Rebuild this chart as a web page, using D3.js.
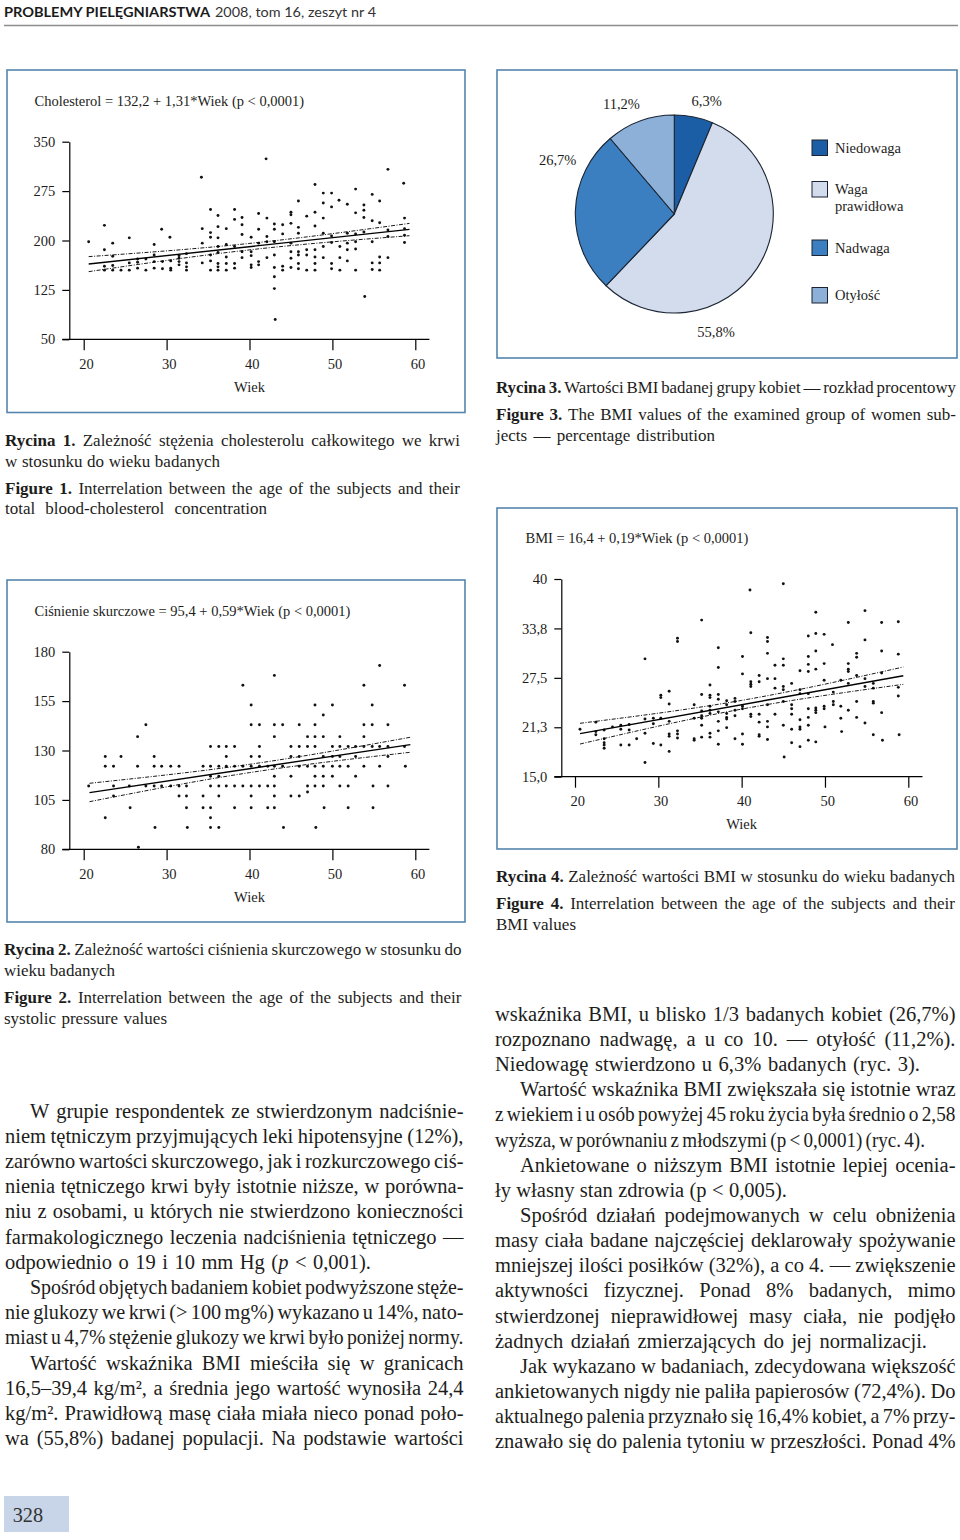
<!DOCTYPE html>
<html><head><meta charset="utf-8">
<script src="https://cdn.jsdelivr.net/npm/d3@7/dist/d3.min.js"></script>
<style>html,body{margin:0;padding:0;background:#fff}svg{display:block}</style>
</head><body>
<svg id="page" width="960" height="1540"></svg>
<script>
// ================= DATA =================
const ageTicks = [20, 30, 40, 50, 60];

// Figure 1 – cholesterol vs age
const cholTicks = [350, 275, 200, 125, 50];
const cholTickLabels = ["350", "275", "200", "125", "50"];
const cholPoints = [
[20.6,198],[22.5,223],[22.5,186],[22.5,161],[22.5,155],[23.5,196],[23.5,176],[23.5,162],[23.5,155],[24.5,155],
[25.5,204],[25.5,166],[25.5,155],[26.5,172],[26.5,167],[26.5,158],[27.5,172],[27.5,155],[28.5,194],[28.5,178],
[28.5,168],[28.5,158],[29.4,217],[29.5,168],[29.5,157],[30.4,205],[30.5,169],[30.5,158],[30.5,155],[31.5,177],
[31.5,173],[31.5,168],[31.5,163],[32.4,180],[32.4,166],[32.4,160],[32.4,155],[34.2,296],[34.3,218],[34.3,196],
[34.3,166],[35.3,247],[35.3,212],[35.3,205],[35.3,178],[35.3,169],[35.3,155],[36.2,238],[36.2,221],[36.2,204],
[36.2,191],[36.2,182],[36.2,165],[36.2,160],[36.2,155],[37.2,218],[37.2,194],[37.2,175],[37.2,165],[37.2,155],
[38.2,247],[38.2,232],[38.2,191],[38.2,165],[38.2,158],[39.1,235],[39.1,224],[39.1,209],[39.1,183],[39.1,174],
[40.2,205],[40.2,183],[40.2,177],[40.2,163],[40.2,159],[41.1,241],[41.1,217],[41.1,196],[41.1,168],[41.1,163],
[42.0,324],[42.1,234],[42.1,206],[42.1,198],[42.1,174],[43.0,225],[43.0,217],[43.0,198],[43.0,178],[43.0,159],
[43.0,145],[43.0,127],[43.1,80],[44.0,224],[44.0,210],[44.0,161],[44.0,155],[45.0,243],[45.0,239],[45.0,226],
[45.0,196],[45.0,183],[45.0,173],[45.0,159],[45.9,260],[45.9,220],[45.9,211],[45.9,183],[45.9,178],[45.9,165],
[45.9,157],[46.9,237],[46.9,186],[46.9,178],[46.9,155],[47.9,285],[47.9,243],[47.9,222],[47.9,186],[47.9,175],
[47.9,165],[47.9,155],[48.9,272],[48.9,257],[48.9,234],[48.9,211],[48.9,191],[48.9,174],[49.9,272],[49.9,251],
[49.9,207],[49.9,197],[49.9,165],[49.9,157],[50.8,261],[50.9,191],[50.9,174],[50.9,155],[51.8,255],[51.8,211],
[51.8,196],[51.8,186],[51.8,169],[52.8,278],[52.8,242],[52.8,210],[52.8,198],[52.8,187],[52.8,155],[53.8,254],
[53.8,246],[53.8,235],[53.8,213],[53.9,115],[54.8,270],[54.8,230],[54.8,198],[54.8,166],[54.8,156],[55.7,260],
[55.7,227],[55.7,175],[55.7,166],[55.7,155],[56.7,308],[56.7,216],[56.7,206],[56.7,174],[58.6,287],[58.7,234],
[58.7,218],[58.7,208],[58.7,197]];
const cholFitAge = [20.6, 39.95, 59.3];
const cholFit = [164.3, 190.6, 216.9];
const cholUpper = [175.5, 195.5, 226.0];
const cholLower = [152.7, 185.7, 207.3];

// Figure 2 – systolic pressure vs age
const bpTicks = [180, 155, 130, 105, 80];
const bpTickLabels = ["180", "155", "130", "105", "80"];
const bpPoints = [
[20.6,112],[22.6,127],[22.6,122],[22.6,96],[23.6,122],[23.6,112],[23.6,107],[24.5,127],[25.5,112],[25.6,101],
[26.5,137],[26.5,122],[26.6,81],[27.5,143],[27.5,112],[28.5,127],[28.5,122],[28.5,112],[28.6,91],[29.4,122],
[29.4,112],[30.5,122],[30.5,112],[31.5,122],[31.5,112],[31.5,107],[32.4,112],[32.4,107],[32.4,101],[32.5,91],
[34.4,122],[34.4,107],[34.4,101],[35.3,132],[35.3,122],[35.3,117],[35.3,112],[35.3,101],[35.3,96],[35.3,91],
[36.3,132],[36.3,122],[36.3,117],[36.3,112],[36.3,107],[36.3,91],[37.2,132],[37.2,127],[37.2,122],[37.2,112],
[38.2,132],[38.2,122],[38.2,112],[38.2,101],[39.2,163],[39.2,122],[39.2,112],[40.2,153],[40.2,143],[40.2,127],
[40.2,122],[40.2,112],[40.2,107],[40.2,101],[41.2,143],[41.2,132],[41.2,127],[41.2,122],[41.2,112],[42.2,122],
[42.2,112],[42.2,101],[43.0,168],[43.0,143],[43.0,137],[43.0,122],[43.0,117],[43.0,112],[43.0,107],[43.0,101],
[44.0,143],[44.0,122],[44.1,91],[45.0,132],[45.0,127],[45.0,117],[45.0,107],[46.0,143],[46.0,132],[46.0,127],
[46.0,122],[46.0,107],[47.0,137],[47.0,132],[47.0,122],[47.0,112],[47.0,109],[47.9,153],[47.9,143],[47.9,137],
[47.9,132],[47.9,122],[47.9,117],[47.9,112],[48.0,91],[48.9,148],[48.9,137],[48.9,127],[48.9,122],[48.9,117],
[48.9,112],[49.0,101],[50.0,153],[50.0,132],[50.0,127],[50.0,122],[50.0,117],[50.9,137],[50.9,132],[50.9,127],
[50.9,122],[50.9,112],[51.9,132],[51.9,122],[51.9,112],[51.9,101],[52.8,132],[52.8,127],[52.8,117],[53.8,163],
[53.8,143],[53.8,137],[53.8,132],[53.8,122],[54.8,153],[54.8,143],[54.8,132],[54.9,112],[54.9,101],[55.7,173],
[55.7,132],[55.7,122],[56.7,143],[56.7,132],[56.7,127],[56.7,112],[58.7,163],[58.7,132],[58.8,122]];
const bpFitAge = [20.7, 40.0, 59.4];
const bpFit = [108.7, 120.9, 133.0];
const bpUpper = [113.4, 123.0, 136.7];
const bpLower = [104.1, 118.8, 129.1];

// Figure 4 – BMI vs age
const bmiTicks = [40, 33.75, 27.5, 21.25, 15];
const bmiTickLabels = ["40", "33,8", "27,5", "21,3", "15,0"];
const bmiPoints = [
[20.6,21.0],[22.5,20.7],[22.5,20.3],[22.5,21.9],[23.5,19.8],[23.5,19.3],[23.5,19.0],[23.5,18.6],[23.5,20.9],[24.5,21.3],
[25.5,19.0],[25.5,21.0],[25.5,21.5],[26.5,19.0],[26.5,21.6],[26.5,20.9],[27.4,19.8],[28.4,29.9],[28.4,22.3],[28.4,20.5],
[28.4,16.8],[29.4,19.2],[29.4,22.4],[29.4,21.7],[30.3,25.3],[30.3,25.0],[30.3,22.4],[30.3,19.0],[31.3,25.8],[31.3,24.2],
[31.3,22.0],[31.3,20.4],[31.3,20.1],[31.3,18.2],[32.3,32.5],[32.3,32.1],[32.3,20.8],[32.3,20.4],[32.3,19.9],[34.3,24.1],
[34.3,22.4],[34.3,19.8],[34.3,19.6],[35.2,34.8],[35.2,25.4],[35.2,23.3],[35.2,22.7],[35.2,22.4],[35.2,21.5],[35.2,20.0],
[36.2,26.6],[36.2,25.3],[36.2,25.0],[36.2,23.9],[36.2,23.4],[36.2,23.0],[36.2,20.5],[36.2,20.0],[37.2,31.3],[37.2,28.8],
[37.2,25.4],[37.2,24.8],[37.2,23.2],[37.2,22.0],[37.2,20.8],[37.2,19.1],[38.2,24.6],[38.2,24.1],[38.2,23.0],[38.2,22.5],
[38.2,22.3],[38.2,21.2],[39.2,24.9],[39.2,24.5],[39.2,23.4],[39.2,22.7],[39.2,19.8],[40.1,30.2],[40.1,28.0],[40.1,23.9],
[40.1,23.6],[40.1,20.4],[40.1,19.1],[41.0,38.6],[41.1,33.2],[41.1,27.0],[41.1,26.7],[41.1,26.4],[41.1,22.9],[41.1,22.6],
[42.1,27.8],[42.1,27.0],[42.1,22.9],[42.1,21.9],[42.1,20.3],[42.1,20.1],[43.1,32.6],[43.1,32.1],[43.1,30.6],[43.1,27.4],
[43.1,24.1],[43.1,22.0],[43.1,21.3],[43.1,19.7],[44.0,29.1],[44.0,27.4],[44.0,26.2],[44.0,22.9],[45.0,39.4],[45.0,29.9],
[45.0,29.1],[45.0,26.4],[45.0,26.0],[45.0,24.5],[45.0,21.5],[45.1,17.5],[46.0,26.8],[46.0,24.1],[46.0,23.6],[46.0,22.9],
[46.0,21.0],[46.0,19.3],[47.0,28.4],[47.0,26.0],[47.0,25.5],[47.0,22.2],[47.0,21.3],[47.0,21.0],[47.0,18.8],[48.0,32.8],
[48.0,30.2],[48.0,29.2],[48.0,28.3],[48.0,25.5],[48.0,23.6],[48.0,22.5],[48.0,21.5],[48.0,19.6],[48.9,35.8],[48.9,33.1],
[48.9,30.9],[48.9,28.6],[48.9,23.7],[48.9,23.4],[48.9,23.1],[48.9,19.4],[49.9,33.0],[49.9,29.3],[49.9,27.2],[49.9,23.9],
[49.9,23.6],[50.0,21.3],[50.9,31.7],[51.0,25.7],[51.0,24.5],[51.0,24.1],[51.9,27.2],[51.9,23.9],[51.9,22.4],[52.0,20.7],
[52.8,34.5],[52.8,29.3],[52.8,28.6],[52.8,28.3],[52.8,26.8],[52.8,23.4],[53.8,30.6],[53.8,30.1],[53.8,27.8],[53.8,24.5],
[53.8,22.5],[54.8,36.0],[54.8,32.3],[54.8,27.4],[54.8,26.4],[54.8,21.8],[55.8,26.8],[55.8,26.2],[55.8,24.5],[55.8,24.3],
[55.8,20.3],[56.8,34.5],[56.8,30.9],[56.8,28.1],[56.8,23.1],[56.9,19.6],[58.8,34.6],[58.8,30.5],[58.8,26.3],[58.8,25.2],
[58.9,20.3]];
const bmiFitAge = [20.6, 40.0, 59.4];
const bmiFit = [20.44, 24.1, 27.77];
const bmiUpper = [21.75, 24.65, 28.87];
const bmiLower = [19.13, 23.55, 26.68];

// Figure 3 – pie
const pieCategories = ["Niedowaga", "Waga prawidłowa", "Nadwaga", "Otyłość"];
const pieValues = [6.3, 55.8, 26.7, 11.2];
const pieColors = ["#1c5ea6", "#d2dcec", "#3c7fc0", "#8db0d9"];

// ================= TEXT =================
const SERIF = '"Liberation Serif","Times New Roman",serif';
const INK = "#1d1d1b";

const cap1 = [["*Rycina *1. Zależność stężenia cholesterolu całkowitego we krwi", null],
              ["w stosunku do wieku badanych", 220],
              ["*Figure *1. Interrelation between the age of the subjects and their", null],
              ["total blood-cholesterol concentration", 267]];
const cap2 = [["*Rycina *2. Zależność wartości ciśnienia skurczowego w stosunku do", null],
              ["wieku badanych", 115],
              ["*Figure *2. Interrelation between the age of the subjects and their", null],
              ["systolic pressure values", 167]];
const cap3 = [["*Rycina *3. Wartości BMI badanej grupy kobiet — rozkład procentowy", null],
              ["*Figure *3. The BMI values of the examined group of women sub-", null],
              ["jects — percentage distribution", 715]];
const cap4 = [["*Rycina *4. Zależność wartości BMI w stosunku do wieku badanych", null],
              ["*Figure *4. Interrelation between the age of the subjects and their", null],
              ["BMI values", 576]];

const bodyLeft = [
 ["W grupie respondentek ze stwierdzonym nadciśnie-", null, true],
 ["niem tętniczym przyjmujących leki hipotensyjne (12%),", null],
 ["zarówno wartości skurczowego, jak i rozkurczowego ciś-", null],
 ["nienia tętniczego krwi były istotnie niższe, w porówna-", null],
 ["niu z osobami, u których nie stwierdzono konieczności", null],
 ["farmakologicznego leczenia nadciśnienia tętniczego —", null],
 ["odpowiednio o 19 i 10 mm Hg (_p_ < 0,001).", 371],
 ["Spośród objętych badaniem kobiet podwyższone stęże-", null, true],
 ["nie glukozy we krwi (> 100 mg%) wykazano u 14%, nato-", null],
 ["miast u 4,7% stężenie glukozy we krwi było poniżej normy.", null],
 ["Wartość wskaźnika BMI mieściła się w granicach", null, true],
 ["16,5–39,4 kg/m², a średnia jego wartość wynosiła 24,4", null],
 ["kg/m². Prawidłową masę ciała miała nieco ponad poło-", null],
 ["wa (55,8%) badanej populacji. Na podstawie wartości", null]];
const bodyRight = [
 ["wskaźnika BMI, u blisko 1/3 badanych kobiet (26,7%)", null],
 ["rozpoznano nadwagę, a u co 10. — otyłość (11,2%).", null],
 ["Niedowagę stwierdzono u 6,3% badanych (ryc. 3).", 920],
 ["Wartość wskaźnika BMI zwiększała się istotnie wraz", null, true],
 ["z wiekiem i u osób powyżej 45 roku życia była średnio o 2,58", null],
 ["wyższa, w porównaniu z młodszymi (p < 0,0001) (ryc. 4).", 925],
 ["Ankietowane o niższym BMI istotnie lepiej ocenia-", null, true],
 ["ły własny stan zdrowia (p < 0,005).", 787],
 ["Spośród działań podejmowanych w celu obniżenia", null, true],
 ["masy ciała badane najczęściej deklarowały spożywanie", null],
 ["mniejszej ilości posiłków (32%), a co 4. — zwiększenie", null],
 ["aktywności fizycznej. Ponad 8% badanych, mimo", null],
 ["stwierdzonej nieprawidłowej masy ciała, nie podjęło", null],
 ["żadnych działań zmierzających do jej normalizacji.", 927],
 ["Jak wykazano w badaniach, zdecydowana większość", null, true],
 ["ankietowanych nigdy nie paliła papierosów (72,4%). Do", null],
 ["aktualnego palenia przyznało się 16,4% kobiet, a 7% przy-", null],
 ["znawało się do palenia tytoniu w przeszłości. Ponad 4%", null]];

// ================= DRAWING =================
const svg = d3.select("#page");
svg.append("rect").attr("width", 960).attr("height", 1540).attr("fill", "#fff");

// header
svg.append("text").attr("x", 4).attr("y", 17).attr("font-family", "Lato, 'DejaVu Sans', sans-serif")
  .attr("font-weight", 700).attr("font-size", 13.5).attr("fill", "#1a1a1a")
  .attr("textLength", 206).attr("lengthAdjust", "spacingAndGlyphs").text("PROBLEMY PIELĘGNIARSTWA");
svg.append("text").attr("x", 215).attr("y", 17).attr("font-family", "Lato, 'DejaVu Sans', sans-serif")
  .attr("font-size", 14).attr("fill", "#333")
  .attr("textLength", 161).attr("lengthAdjust", "spacingAndGlyphs").text("2008, tom 16, zeszyt nr 4");
svg.append("line").attr("x1", 4).attr("x2", 958).attr("y1", 25.5).attr("y2", 25.5)
  .attr("stroke", "#8c8c8c").attr("stroke-width", 1.5);

// justified line helper
function parseWord(w) {
  let bold = false;
  if (w.startsWith("*")) { bold = true; w = w.slice(1); }
  const segs = [];
  w.split("_").forEach((p, i) => { if (p) segs.push({ t: p, it: i % 2 === 1, b: bold }); });
  return segs;
}
function textLine(str, x0, y, xEnd, fs, indent) {
  const words = str.split(" ");
  const t = svg.append("text").attr("y", y).attr("font-size", fs)
    .attr("font-family", SERIF).attr("fill", INK);
  const spans = words.map(w => {
    const ts = t.append("tspan");
    parseWord(w).forEach(s => {
      const c = ts.append("tspan").text(s.t);
      if (s.it) c.attr("font-style", "italic");
      if (s.b) c.attr("font-weight", "bold");
    });
    return ts;
  });
  const widths = spans.map(s => s.node().getComputedTextLength());
  const start = x0 + (indent || 0);
  const avail = xEnd - start;
  const sum = d3.sum(widths);
  const n = words.length;
  const space = 0.25 * fs;
  let gap = n > 1 ? (avail - sum) / (n - 1) : space;
  if (gap > 1.3 * fs) gap = space;
  let sx = 1;
  const minGap = 0.17 * fs;
  if (gap < minGap) { gap = minGap; sx = avail / (sum + gap * (n - 1)); }
  let cx = start;
  spans.forEach((s, i) => { s.attr("x", cx); cx += widths[i] + gap; });
  if (sx < 1) t.attr("transform", `translate(${start},0) scale(${sx},1) translate(${-start},0)`);
}
function block(lines, x0, xEnd, y0, step, fs, indent) {
  lines.forEach((l, i) => {
    const y = Array.isArray(y0) ? y0[i] : y0 + i * step;
    textLine(l[0], x0, y, l[1] == null ? xEnd : l[1], fs, l[2] ? indent : 0);
  });
}

// box helper
const BOX = "#5585ad";
function box(x, y, w, h) {
  svg.append("rect").attr("x", x).attr("y", y).attr("width", w).attr("height", h)
    .attr("fill", "#fff").attr("stroke", BOX).attr("stroke-width", 1.6);
}

// scatter helper
function scatter(cfg) {
  box(...cfg.box);
  const g = svg.append("g").attr("font-family", SERIF);
  g.append("text").attr("x", cfg.titleX).attr("y", cfg.titleY).attr("font-size", 14.5)
    .attr("fill", INK).text(cfg.title);
  const x = d3.scaleLinear().domain([20, 60]).range([cfg.x20, cfg.x60]);
  const y = d3.scaleLinear().domain([cfg.ticks[cfg.ticks.length - 1], cfg.ticks[0]])
    .range([cfg.yBottom, cfg.yTop]);
  const ya = g.append("g").attr("transform", `translate(${cfg.yAxisX},0)`)
    .call(d3.axisLeft(y).tickValues(cfg.ticks).tickFormat((d, i) => cfg.labels[i])
      .tickSize(7).tickSizeOuter(0).tickPadding(7));
  const xa = g.append("g").attr("transform", `translate(0,${cfg.yBottom})`)
    .call(d3.axisBottom(x).tickValues(ageTicks).tickSize(11).tickPadding(8).tickSizeOuter(0));
  xa.select(".domain").remove();
  g.append("line").attr("x1", cfg.yAxisX - 7).attr("x2", x(61.7))
    .attr("y1", cfg.yBottom).attr("y2", cfg.yBottom).attr("stroke", "#000").attr("stroke-width", 1.2);
  [ya, xa].forEach(a => {
    a.selectAll("text").attr("font-family", SERIF).attr("font-size", 14.5).attr("fill", INK);
    a.selectAll("line,path").attr("stroke", "#000").attr("stroke-width", 1.2);
  });
  xa.selectAll("text").attr("dx", "0.15em");
  g.append("text").attr("x", x(40)).attr("y", cfg.yBottom + 52.5).attr("text-anchor", "middle")
    .attr("font-size", 14.5).attr("fill", INK).text("Wiek");
  g.append("g").selectAll("circle").data(cfg.points).join("circle")
    .attr("cx", d => x(d[0])).attr("cy", d => y(d[1])).attr("r", 1.45).attr("fill", "#111");
  const line = d3.line().x((d, i) => x(cfg.fitAge[i])).y(d => y(d));
  g.append("path").attr("d", d3.line().x((d, i) => x(cfg.fitAge[i * 2])).y(d => y(d))([cfg.fit[0], cfg.fit[2]]))
    .attr("fill", "none").attr("stroke", "#000").attr("stroke-width", 1.4);
  [cfg.upper, cfg.lower].forEach(arr => {
    g.append("path").attr("d", line.curve(d3.curveNatural)(arr))
      .attr("fill", "none").attr("stroke", "#000").attr("stroke-width", 0.9)
      .attr("stroke-dasharray", "4,1.5,1,1.5");
  });
}

scatter({ box: [7, 70, 458, 342.5], title: "Cholesterol = 132,2 + 1,31*Wiek (p < 0,0001)",
  titleX: 34.5, titleY: 106, x20: 83.7, x60: 415.3, yTop: 141.7, yBottom: 339.3, yAxisX: 69.3,
  ticks: cholTicks, labels: cholTickLabels, points: cholPoints,
  fitAge: cholFitAge, fit: cholFit, upper: cholUpper, lower: cholLower });

scatter({ box: [7, 580, 458, 342], title: "Ciśnienie skurczowe = 95,4 + 0,59*Wiek (p < 0,0001)",
  titleX: 34.5, titleY: 616, x20: 83.7, x60: 415.3, yTop: 651.7, yBottom: 849.3, yAxisX: 69.3,
  ticks: bpTicks, labels: bpTickLabels, points: bpPoints,
  fitAge: bpFitAge, fit: bpFit, upper: bpUpper, lower: bpLower });

scatter({ box: [497, 508, 460, 341], title: "BMI = 16,4 + 0,19*Wiek (p < 0,0001)",
  titleX: 525.5, titleY: 543, x20: 575, x60: 908.3, yTop: 579, yBottom: 776.7, yAxisX: 561.3,
  ticks: bmiTicks, labels: bmiTickLabels, points: bmiPoints,
  fitAge: bmiFitAge, fit: bmiFit, upper: bmiUpper, lower: bmiLower });

// pie chart
box(497, 70, 460, 288);
const pieLayout = { cx: 674.3, cy: 214, r: 99,
  labelAngle: [16, 160.5, 294.8, 334.3], labelRadius: [117.6, 125, 128.5, 122],
  legendX: 812, legendTextX: 835, legendY: [147.5, 189, 247.5, 295] };
const pg = svg.append("g").attr("transform", `translate(${pieLayout.cx},${pieLayout.cy})`);
const arcs = d3.pie().sort(null).value(d => d)(pieValues);
const arcGen = d3.arc().innerRadius(0).outerRadius(pieLayout.r);
pg.selectAll("path").data(arcs).join("path").attr("d", arcGen)
  .attr("fill", (d, i) => pieColors[i]).attr("stroke", "#1a2433").attr("stroke-width", 1.1)
  .attr("stroke-linejoin", "round");
const fmtPct = v => d3.format(".1f")(v).replace(".", ",") + "%";
pg.selectAll("text").data(arcs).join("text")
  .attr("x", (d, i) => pieLayout.labelRadius[i] * Math.sin(pieLayout.labelAngle[i] * Math.PI / 180))
  .attr("y", (d, i) => -pieLayout.labelRadius[i] * Math.cos(pieLayout.labelAngle[i] * Math.PI / 180))
  .attr("dy", "0.35em").attr("text-anchor", "middle").attr("font-family", SERIF)
  .attr("font-size", 14.5).attr("fill", INK).text(d => fmtPct(d.data));
const lg = svg.append("g").attr("font-family", SERIF).attr("font-size", 14.5).attr("fill", INK);
pieCategories.forEach((c, i) => {
  const yc = pieLayout.legendY[i];
  lg.append("rect").attr("x", pieLayout.legendX).attr("y", yc - 7.5).attr("width", 15.5).attr("height", 15.5)
    .attr("fill", pieColors[i]).attr("stroke", "#1a2433").attr("stroke-width", 1);
  const t = lg.append("text").attr("x", pieLayout.legendTextX).attr("y", yc);
  c.split(" ").forEach((w, j) => {
    t.append("tspan").attr("x", pieLayout.legendTextX).attr("dy", j === 0 ? "0.35em" : "17px").text(w);
  });
});

// captions
block(cap1, 5, 460, [446, 466.5, 493.5, 514], 0, 17);
block(cap3, 496, 956, [393, 420, 441], 0, 17);
block(cap2, 4, 461.5, [955, 976, 1003, 1024], 0, 17);
block(cap4, 496, 955, [882, 909, 930], 0, 17);

// body text
block(bodyLeft, 5, 463.5, 1117.5, 25.2, 20.5, 25);
block(bodyRight, 495, 955.5, 1020.8, 25.15, 20.5, 25);

// page number
svg.append("rect").attr("x", 4).attr("y", 1496).attr("width", 65).attr("height", 36).attr("fill", "#c8d4e8");
svg.append("text").attr("x", 12.7).attr("y", 1521.5).attr("font-family", SERIF).attr("font-size", 22)
  .attr("fill", "#333").attr("textLength", 30.5).attr("lengthAdjust", "spacingAndGlyphs").text("328");
</script>
</body></html>
